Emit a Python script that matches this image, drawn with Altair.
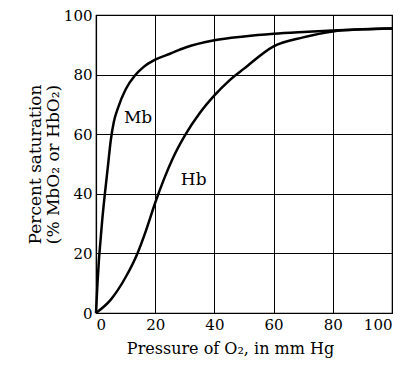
import altair as alt
import pandas as pd

mb_x = [0, 0.5, 1, 1.5, 2, 3, 4, 5, 6, 7.5, 10, 13, 16, 20, 25, 30, 40, 50, 60, 70, 80, 90, 100]
mb_y = [0, 10, 18, 24, 30, 40, 49, 58, 64, 69, 75, 79.5, 82.5, 85, 87, 89, 91.5, 92.8, 93.7, 94.3, 94.8, 95.2, 95.5]
hb_x = [0, 5, 10, 14, 17, 20, 23, 26, 30, 35, 40, 45, 50, 60, 70, 80, 90, 100]
hb_y = [0, 4.5, 12, 20, 28, 37, 45, 52, 59.5, 67, 73, 78, 82, 89.5, 92.5, 94.5, 95.2, 95.5]
label_text = ["Mb", "Hb"]
label_x = [14.2, 33]
label_y = [65.4, 44.6]

FONT = "DejaVu Serif"

df = pd.concat([
    pd.DataFrame({"x": mb_x, "y": mb_y, "s": "Mb"}),
    pd.DataFrame({"x": hb_x, "y": hb_y, "s": "Hb"}),
])
lab = pd.DataFrame({"t": label_text, "x": label_x, "y": label_y})

xs = alt.Scale(domain=[0, 100], nice=False)
ys = alt.Scale(domain=[0, 100], nice=False)

lines = alt.Chart(df).mark_line(color="black", strokeWidth=2.5, interpolate="monotone").encode(
    x=alt.X("x:Q", scale=xs, axis=alt.Axis(title="Pressure of O₂, in mm Hg", values=[0, 20, 40, 60, 80, 100],
                                           titleX=134, titleFontSize=16)),
    y=alt.Y("y:Q", scale=ys, axis=alt.Axis(title=["Percent saturation", "(% MbO₂ or HbO₂)"], values=[0, 20, 40, 60, 80, 100],
                                           titleFontSize=17, titleLineHeight=18, titlePadding=1)),
    detail="s:N",
)

texts = alt.Chart(lab).mark_text(font=FONT, fontSize=17, color="black").encode(
    x=alt.X("x:Q", scale=xs),
    y=alt.Y("y:Q", scale=ys),
    text="t:N",
)

chart = (lines + texts).properties(
    width=296, height=298,
    autosize=alt.AutoSizeParams(type="none"),
    padding={"left": 88, "top": 7, "right": 5, "bottom": 55},
).configure_view(stroke="black", strokeWidth=1.2).configure_axis(
    grid=True, gridColor="black", gridOpacity=1, gridWidth=1,
    domainColor="black", domainWidth=1.2,
    ticks=False, labelPadding=4,
    labelFont=FONT, labelFontSize=15, labelColor="black",
    titleFont=FONT, titleColor="black", titleFontWeight="normal",
).configure_axisX(titlePadding=8)

chart.save("out.html", embed_options={"renderer": "svg", "actions": False})
